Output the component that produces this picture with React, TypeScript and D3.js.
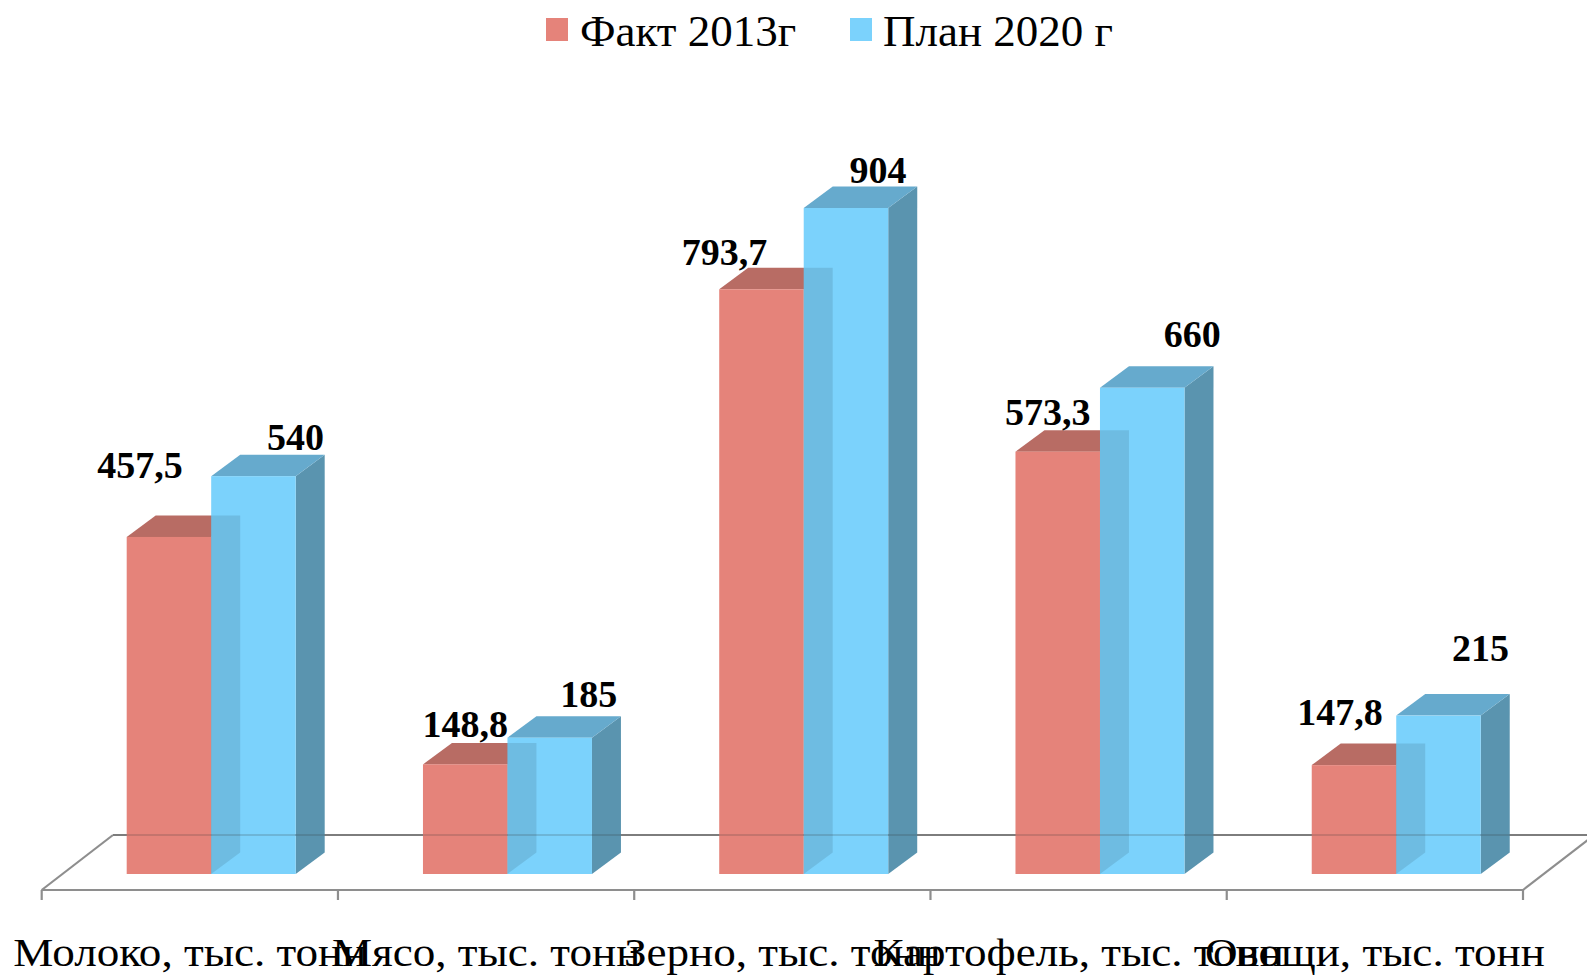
import React from "react";
import * as d3 from "d3";

const categories = [
  "Молоко, тыс. тонн",
  "Мясо, тыс. тонн",
  "Зерно, тыс. тонн",
  "Картофель, тыс. тонн",
  "Овощи, тыс. тонн",
];
const fact2013 = [457.5, 148.8, 793.7, 573.3, 147.8];
const plan2020 = [540, 185, 904, 660, 215];
const factLabels = ["457,5", "148,8", "793,7", "573,3", "147,8"];
const planLabels = ["540", "185", "904", "660", "215"];
const seriesNames = ["Факт 2013г", "План 2020 г"];

// label placement offsets (layout, px) relative to bar front-top centre
const factLabelDx = [-29, 0, -37, -10, -14];
const factLabelDy = [-59, -27, -24, -27, -40];
const planLabelDx = [42, 39, 32, 50, 42];
const planLabelDy = [-26, -31, -25, -41, -55];

const W = 1587;
const H = 976;
const BASE = 874;
const DX = 29;
const DY = -21.5;
const BAR_W = 84.5;
const BAR_OFF = 85;

const C = {
  redFront: "#E5837A",
  redTop: "#B86C64",
  redSide: "#A65F58",
  blueFront: "#7BD2FC",
  blueTop: "#66AACD",
  blueSide: "#5A94AF",
};

const SERIF = "'Liberation Serif', 'Times New Roman', serif";

export default function App() {
  const x = d3.scaleBand<string>().domain(categories).range([41.7, 1523]).padding(0);
  const y = d3.scaleLinear().domain([0, 904]).range([BASE, BASE - 666]);
  const bw = x.bandwidth();
  const ticks = d3.range(categories.length + 1).map((i) => 41.7 + i * bw);

  const poly = (pts: number[][]) => "M" + pts.map((p) => p.join(",")).join("L") + "Z";

  const bar = (L: number, T: number, front: string, top: string, side: string) => {
    const R = L + BAR_W;
    return (
      <g>
        <path d={poly([[R, T], [R + DX, T + DY], [R + DX, BASE + DY], [R, BASE]])} fill={side} />
        <path d={poly([[L, T], [L + DX, T + DY], [R + DX, T + DY], [R, T]])} fill={top} />
        <rect x={L} y={T} width={BAR_W} height={BASE - T} fill={front} />
      </g>
    );
  };

  const labelStyle: React.CSSProperties = {
    fontFamily: SERIF,
    fontWeight: 700,
    fontSize: 38,
  };

  const backY = 835;
  const frontY = 890;
  const floorDX = 71.3;

  return (
    <svg
      width={W}
      height={H}
      style={{ position: "fixed", left: 0, top: 0, background: "#fff" }}
      viewBox={`0 0 ${W} ${H}`}
    >
      <rect x={0} y={0} width={W} height={H} fill="#fff" />
      {/* legend */}
      <g style={{ fontFamily: SERIF, fontSize: 45 }}>
        <rect x={546} y={18} width={22} height={23} fill={C.redFront} />
        <text x={580} y={46} fill="#000">{seriesNames[0]}</text>
        <rect x={850} y={18} width={22} height={23} fill={C.blueFront} />
        <text x={883} y={46} fill="#000">{seriesNames[1]}</text>
      </g>
      {/* floor */}
      <g fill="none" stroke="#8e8e8e" strokeWidth={2.2}>
        <line x1={41.7} y1={frontY} x2={1523} y2={frontY} />
        <line x1={41.7} y1={frontY} x2={41.7 + floorDX} y2={backY} />
        <line x1={41.7 + floorDX} y1={backY} x2={1523 + floorDX} y2={backY} />
        <line x1={1523} y1={frontY} x2={1523 + floorDX} y2={backY} />
        {ticks.map((t, i) => (
          <line key={i} x1={t} y1={frontY} x2={t} y2={frontY + 10} />
        ))}
      </g>
      {/* bars */}
      {categories.map((c, i) => {
        const L = (x(c) as number) + BAR_OFF;
        const R = L + BAR_W;
        const rT = y(fact2013[i]);
        const bT = y(plan2020[i]);
        return (
          <g key={c}>
            {bar(L, rT, C.redFront, C.redTop, C.redSide)}
            {bar(R, bT, C.blueFront, C.blueTop, C.blueSide)}
            <path
              d={poly([[R, rT + DY], [R + DX, rT + DY], [R + DX, BASE + DY], [R, BASE]])}
              fill="#000"
              fillOpacity={0.1}
            />
          </g>
        );
      })}
      {/* back floor line seen through bars */}
      <line
        x1={41.7 + floorDX}
        y1={backY}
        x2={1523 + floorDX}
        y2={backY}
        stroke="#303030"
        strokeOpacity={0.18}
        strokeWidth={2.2}
      />
      {/* value labels */}
      <g style={labelStyle} textAnchor="middle" fill="#000">
        {categories.map((c, i) => {
          const L = (x(c) as number) + BAR_OFF;
          const R = L + BAR_W;
          return (
            <g key={c}>
              <text x={L + BAR_W / 2 + factLabelDx[i]} y={y(fact2013[i]) + factLabelDy[i]}>
                {factLabels[i]}
              </text>
              <text x={R + BAR_W / 2 + planLabelDx[i]} y={y(plan2020[i]) + planLabelDy[i]}>
                {planLabels[i]}
              </text>
            </g>
          );
        })}
      </g>
      {/* category labels */}
      <g style={{ fontFamily: SERIF, fontSize: 41 }} textAnchor="middle" fill="#000">
        {categories.map((c) => (
          <text
            key={c}
            transform={`translate(${(x(c) as number) + bw / 2},966) scale(1.1,1)`}
          >
            {c}
          </text>
        ))}
      </g>
    </svg>
  );
}
